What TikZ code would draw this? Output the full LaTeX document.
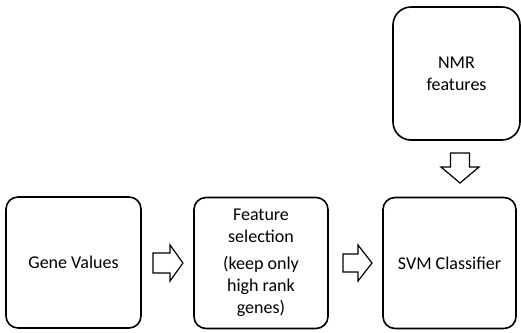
\documentclass[tikz,border=0pt]{standalone}
\usepackage{fontspec}
\setmainfont{Carlito}
\begin{document}
\begin{tikzpicture}[x=1pt,y=-1pt,
  box/.style={draw=black,line width=1.6pt,rounded corners=12pt,align=center,
    inner sep=0pt,font=\fontsize{18}{22}\selectfont},
  blockarrow/.style={draw=black,line width=1.2pt,fill=white,line join=miter}]
\useasboundingbox (0,0) rectangle (521,332);
\node[box,minimum width=135pt,minimum height=131pt] (gene) at (73.5,262.5) {Gene Values};
\node[box,minimum width=134pt,minimum height=131pt] (feat) at (261,263) {Feature\\selection\\[5pt](keep only\\high rank\\genes)};
\node[box,minimum width=133pt,minimum height=131pt] (svm) at (449.5,263) {SVM Classifier};
\node[box,rounded corners=18pt,minimum width=127pt,minimum height=133pt] (nmr) at (456.5,73.5) {NMR\\features};
% arrow gene -> feat
\coordinate (a1) at (153,263);
\draw[blockarrow] (a1) ++(0,-10) -- ++(17,0) -- ++(0,-8) -- ++(13,18) -- ++(-13,18) -- ++(0,-8) -- ++(-17,0) -- cycle;
% arrow feat -> svm
\coordinate (a2) at (343,263);
\draw[blockarrow] (a2) ++(0,-9) -- ++(15,0) -- ++(0,-9) -- ++(14,18) -- ++(-14,18) -- ++(0,-9) -- ++(-15,0) -- cycle;
% arrow nmr -> svm
\coordinate (a3) at (460,153);
\draw[blockarrow] (a3) ++(-9.5,0) -- ++(0,14) -- ++(-9.5,0) -- ++(19,16) -- ++(19,-16) -- ++(-9.5,0) -- ++(0,-14) -- cycle;
\end{tikzpicture}
\end{document}
